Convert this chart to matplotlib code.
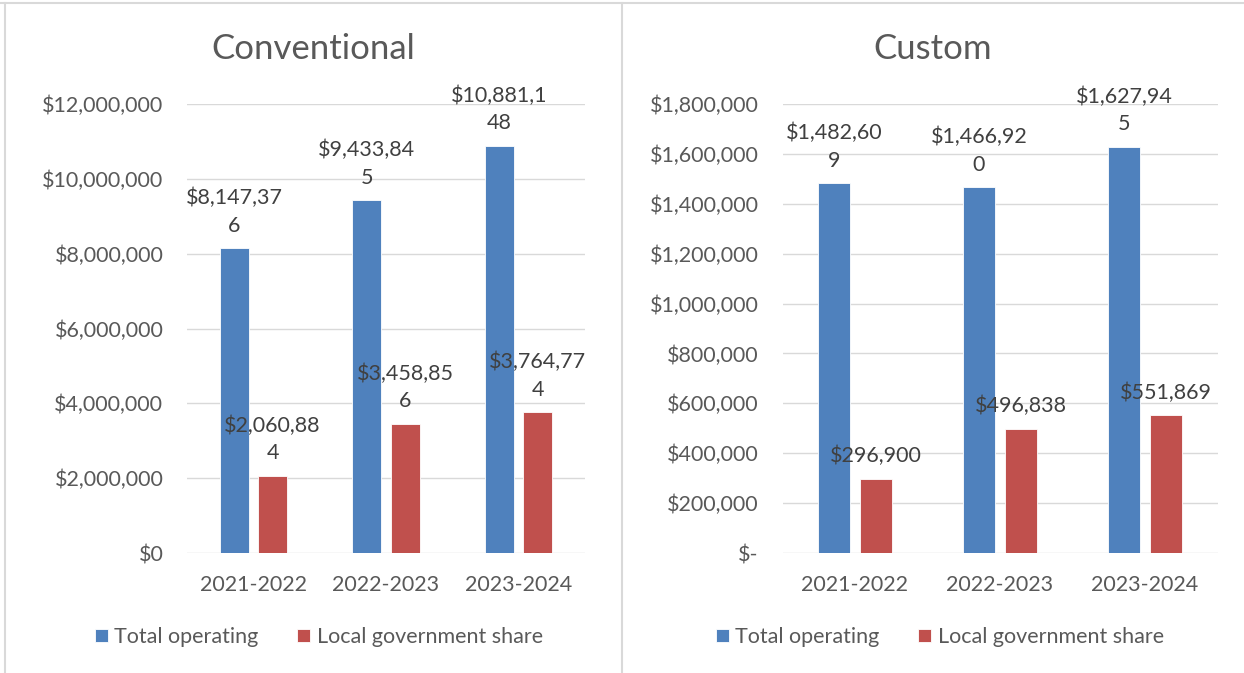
import textwrap
import matplotlib
matplotlib.use("Agg")
import matplotlib.pyplot as plt
from matplotlib.lines import Line2D
from matplotlib.ticker import FuncFormatter

plt.rcParams['font.family'] = ['Lato', 'DejaVu Sans']

years = ["2021-2022", "2022-2023", "2023-2024"]
series_names = ["Total operating", "Local government share"]

conv_total = [8147376, 9433845, 10881148]
conv_local = [2060884, 3458856, 3764774]
custom_total = [1482609, 1466920, 1627945]
custom_local = [296900, 496838, 551869]

conv_ticks = [0, 2000000, 4000000, 6000000, 8000000, 10000000, 12000000]
custom_ticks = [0, 200000, 400000, 600000, 800000, 1000000, 1200000, 1400000, 1600000, 1800000]

BLUE = '#4F81BD'
RED = '#C0504D'
GRID = '#D9D9D9'
AXTXT = '#595959'
LBLTXT = '#404040'
FS = 15.5

W, H = 1244, 673
fig = plt.figure(figsize=(W / 100, H / 100), dpi=100)


def px_axes(x0, x1, y_top, y_bot):
    return fig.add_axes([x0 / W, 1 - y_bot / H, (x1 - x0) / W, (y_bot - y_top) / H])


def draw_panel(ax, title, total, local, ticks, zero_label, panel_center, legend_center):
    x = range(len(years))
    width = 0.22
    off = 0.145
    b1 = ax.bar([i - off for i in x], total, width, color=BLUE, edgecolor='white', linewidth=0.6,
                label=series_names[0], zorder=3)
    b2 = ax.bar([i + off for i in x], local, width, color=RED, edgecolor='white', linewidth=0.6,
                label=series_names[1], zorder=3)
    for bars, vals in ((b1, total), (b2, local)):
        for rect, v in zip(bars, vals):
            txt = textwrap.fill("${:,}".format(v), 9)
            ax.annotate(txt, (rect.get_x() + rect.get_width() / 2, rect.get_height()),
                        xytext=(0, 9), textcoords='offset points', ha='center', va='bottom',
                        fontsize=FS, color=LBLTXT, linespacing=1.45, zorder=4)

    ax.set_xlim(-0.5, len(years) - 0.5)
    ax.set_ylim(ticks[0], ticks[-1])
    ax.set_yticks(ticks)
    ax.yaxis.set_major_formatter(FuncFormatter(
        lambda v, p: zero_label if v == 0 else "${:,.0f}".format(v)))
    ax.set_xticks(list(x))
    ax.set_xticklabels(years)
    ax.tick_params(axis='y', length=0, pad=17, labelsize=FS, labelcolor=AXTXT)
    ax.tick_params(axis='x', length=0, pad=16, labelsize=FS, labelcolor=AXTXT)
    ax.grid(axis='y', color=GRID, linewidth=1.0, zorder=0)
    ax.set_axisbelow(True)
    for s in ax.spines.values():
        s.set_visible(False)

    fig.text(panel_center / W, 1 - 49 / H, title, ha='center', va='center',
             fontsize=25, color=AXTXT)
    ax.legend(loc='center', bbox_to_anchor=(legend_center / W, 1 - 637 / H),
              bbox_transform=fig.transFigure, ncol=2, frameon=False, fontsize=FS,
              labelcolor=AXTXT, handlelength=0.6, handleheight=0.6,
              handletextpad=0.3, columnspacing=1.8)


ax1 = px_axes(187, 585, 104, 553)
draw_panel(ax1, "Conventional", conv_total, conv_local, conv_ticks, "$0", 313, 319)

ax2 = px_axes(782.5, 1217.5, 104, 553)
draw_panel(ax2, "Custom", custom_total, custom_local, custom_ticks, "$-", 933, 940)

# chart borders
for xs, ys in (([0, 1], [1 - 3 / H] * 2), ([5 / W] * 2, [0, 1 - 3 / H]), ([622 / W] * 2, [0, 1 - 3 / H])):
    fig.add_artist(Line2D(xs, ys, transform=fig.transFigure, color=GRID, linewidth=1.5))

fig.savefig("out.png", dpi=100)
